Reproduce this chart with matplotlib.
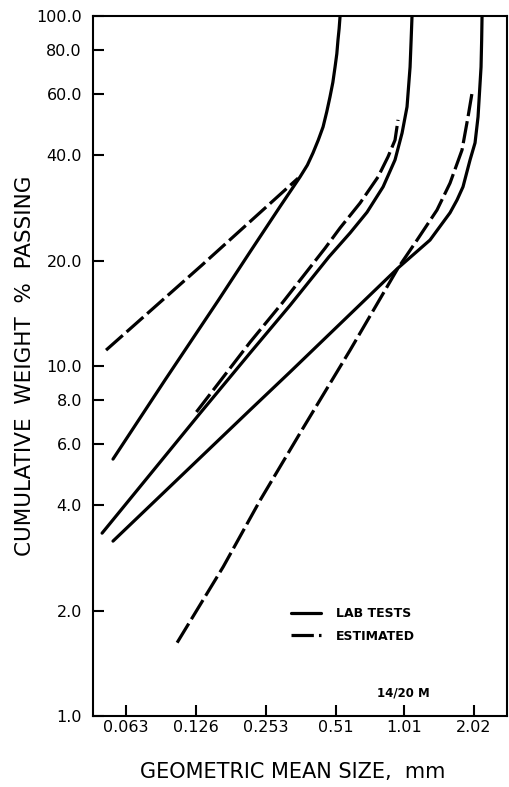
import matplotlib
matplotlib.use("Agg")
import matplotlib.pyplot as plt
from matplotlib.ticker import FixedLocator, NullLocator

# lab-test and estimated size distributions (size in mm, cumulative % passing)
lab_a_size = [0.0553, 0.0929, 0.158, 0.217, 0.292, 0.357, 0.384, 0.406, 0.428, 0.449,
              0.466, 0.481, 0.495, 0.506, 0.515, 0.521, 0.527, 0.532]
lab_a_pct = [5.42, 9.12, 15.4, 21.2, 28.5, 34.7, 37.5, 40.6, 44.2, 48.2,
             53.3, 58.7, 64.6, 71.5, 78.0, 85.4, 92.0, 100.0]

est_a_size = [0.0516, 0.134, 0.350]
est_a_pct = [11.1, 19.4, 34.4]

lab_b_size = [0.0496, 0.132, 0.217, 0.323, 0.476, 0.588, 0.696, 0.817, 0.920,
              0.987, 1.037, 1.069, 1.080, 1.090]
lab_b_pct = [3.33, 7.34, 10.9, 14.9, 20.5, 24.0, 27.5, 32.5, 38.8,
             46.3, 55.0, 71.5, 85.0, 100.0]

est_b_size = [0.127, 0.217, 0.298, 0.458, 0.532, 0.649, 0.777, 0.858, 0.920, 0.948]
est_b_pct = [7.39, 11.7, 15.1, 21.7, 24.8, 29.2, 34.7, 39.6, 44.2, 50.5]

lab_c_size = [0.0553, 0.217, 0.323, 0.948, 1.304, 1.592, 1.707, 1.812, 1.944,
              2.043, 2.105, 2.169, 2.182, 2.191]
lab_c_pct = [3.16, 7.49, 9.61, 19.05, 22.9, 27.4, 29.8, 32.5, 38.8,
             43.4, 51.5, 71.5, 85.0, 100.0]

est_c_size = [0.1048, 0.166, 0.240, 0.368, 0.588, 0.948, 1.146, 1.398, 1.592,
              1.794, 1.905, 1.983]
est_c_pct = [1.62, 2.67, 4.14, 6.65, 11.1, 19.05, 22.9, 27.9, 33.3,
             41.4, 51.5, 60.3]

x_ticks = [0.063, 0.126, 0.253, 0.51, 1.01, 2.02]
x_ticklabels = ["0.063", "0.126", "0.253", "0.51", "1.01", "2.02"]
y_ticks = [1.0, 2.0, 4.0, 6.0, 8.0, 10.0, 20.0, 40.0, 60.0, 80.0, 100.0]

lw = 2.3
dash = (0, (7, 1.6))

fig = plt.figure(figsize=(5.09, 7.87), dpi=100)
ax = fig.add_axes((0.1827, 0.0902, 0.8134, 0.8895))
ax.set_xscale("log")
ax.set_yscale("log")

ax.plot(lab_a_size, lab_a_pct, color="black", lw=lw, solid_capstyle="round", label="LAB TESTS")
ax.plot(lab_b_size, lab_b_pct, color="black", lw=lw, solid_capstyle="round")
ax.plot(lab_c_size, lab_c_pct, color="black", lw=lw, solid_capstyle="round")
ax.plot(est_a_size, est_a_pct, color="black", lw=lw, linestyle=dash, label="ESTIMATED")
ax.plot(est_b_size, est_b_pct, color="black", lw=lw, linestyle=dash)
ax.plot(est_c_size, est_c_pct, color="black", lw=lw, linestyle=dash)

ax.set_xlim(0.0453, 2.81)
ax.set_ylim(1.0, 100.0)

ax.xaxis.set_major_locator(FixedLocator(x_ticks))
ax.xaxis.set_minor_locator(NullLocator())
ax.set_xticklabels(x_ticklabels)
ax.yaxis.set_major_locator(FixedLocator(y_ticks))
ax.yaxis.set_minor_locator(NullLocator())
ax.set_yticklabels(["%.1f" % v for v in y_ticks])

ax.tick_params(axis="x", direction="in", length=8, width=1.5, pad=3, labelsize=11.5)
ax.tick_params(axis="y", direction="in", length=8, width=1.5, pad=8, labelsize=11.5)
for s in ax.spines.values():
    s.set_linewidth(1.5)

ax.set_xlabel("GEOMETRIC MEAN SIZE,  mm", fontsize=15)
ax.xaxis.set_label_coords(0.482, -0.066)
ax.set_ylabel("CUMULATIVE  WEIGHT  %  PASSING", fontsize=15.5)
ax.yaxis.set_label_coords(-0.14, 0.5)

ax.legend(loc="center left", bbox_to_anchor=(0.479, 0.13), frameon=False,
          borderpad=0, borderaxespad=0, handlelength=2.4, handletextpad=1.2,
          labelspacing=0.75, prop={"size": 9, "weight": "bold"})

ax.text(0.685, 0.033, "14/20 M", transform=ax.transAxes, fontsize=8.5,
        fontweight="bold", ha="left", va="center")

fig.savefig("out.png", dpi=100)
